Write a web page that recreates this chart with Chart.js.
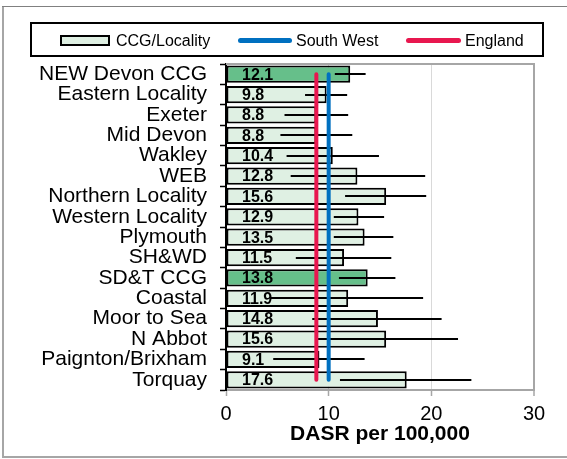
<!DOCTYPE html>
<html>
<head>
<meta charset="utf-8">
<script src="https://cdn.jsdelivr.net/npm/chart.js@4.4.0/dist/chart.umd.min.js"></script>
<style>
  html, body { margin:0; padding:0; background:#fff; }
  #wrap { position:relative; width:567px; height:459px; overflow:hidden; font-family:'Liberation Sans', Arial, sans-serif; }
  #c { position:absolute; left:0; top:0; }
  .abs { position:absolute; }
  .lg-text { position:absolute; font-size:16px; line-height:20px; color:#000; white-space:nowrap; }
</style>
</head>
<body>
<div id="wrap">
  <canvas id="c" width="567" height="459"></canvas>
  <!-- outer frame -->
  <div class="abs" style="left:2px;top:6px;width:2px;height:452px;background:#a6a6a6;"></div>
  <div class="abs" style="left:2px;top:6px;width:565px;height:1px;background:#808080;"></div>
  <div class="abs" style="left:2px;top:456px;width:565px;height:2px;background:#a6a6a6;"></div>
  <!-- legend -->
  <div class="abs" style="left:30px;top:22px;width:510px;height:31px;border:2px solid #000;"></div>
  <div class="abs" id="lgBar" style="left:60px;top:35px;width:46px;height:7px;border:2px solid #000;"></div>
  <div class="lg-text" id="lgT1" style="left:116px;top:31px;"></div>
  <div class="abs" id="lgSW" style="left:238px;top:38px;width:54px;height:5px;border-radius:2.5px;"></div>
  <div class="lg-text" id="lgT2" style="left:296px;top:31px;"></div>
  <div class="abs" id="lgEng" style="left:406px;top:38px;width:55px;height:5px;border-radius:2.5px;"></div>
  <div class="lg-text" id="lgT3" style="left:465px;top:31px;"></div>
</div>
<script>
// ---- data ----
const categories = ['NEW Devon CCG','Eastern Locality','Exeter','Mid Devon','Wakley','WEB','Northern Locality','Western Locality','Plymouth','SH&WD','SD&T CCG','Coastal','Moor to Sea','N Abbot','Paignton/Brixham','Torquay'];
const values = [12.1, 9.8, 8.8, 8.8, 10.4, 12.8, 15.6, 12.9, 13.5, 11.5, 13.8, 11.9, 14.8, 15.6, 9.1, 17.6];
const lowerCI = [10.6, 7.7, 5.7, 5.3, 5.9, 6.3, 11.6, 10.5, 10.5, 6.8, 11.0, 4.3, 8.4, 8.9, 4.6, 11.1];
const upperCI = [13.6, 11.8, 11.9, 12.3, 14.9, 19.4, 19.5, 15.4, 16.3, 16.1, 16.5, 19.2, 21.0, 22.6, 13.5, 23.9];
const highlighted = ['NEW Devon CCG', 'SD&T CCG'];
const southWestValue = 10.0;
const englandValue = 8.8;
const xTicks = [0, 10, 20, 30];
const seriesNames = ['CCG/Locality', 'South West', 'England'];
const axisTitle = 'DASR per 100,000';

// ---- styles ----
const FONT = "'Liberation Sans', Arial, sans-serif";
const LIGHT = '#dff0e3';
const DARK = '#66bf8a';
const BLUE = '#0070c0';
const RED = '#e8174f';

document.getElementById('lgBar').style.background = LIGHT;
document.getElementById('lgSW').style.background = BLUE;
document.getElementById('lgEng').style.background = RED;
document.getElementById('lgT1').textContent = seriesNames[0];
document.getElementById('lgT2').textContent = seriesNames[1];
document.getElementById('lgT3').textContent = seriesNames[2];

const overlay = {
  id: 'overlay',
  beforeDatasetsDraw(chart) {
    const {ctx, chartArea} = chart;
    ctx.save();
    ctx.strokeStyle = '#a6a6a6';
    ctx.lineWidth = 2;
    ctx.beginPath();
    ctx.moveTo(chartArea.left, chartArea.top);
    ctx.lineTo(chartArea.right + 1, chartArea.top);
    ctx.stroke();
    ctx.restore();
  },
  afterDatasetDraw(chart, args) {
    if (args.index !== 0) return;
    const {ctx} = chart;
    const xs = chart.scales.x, ys = chart.scales.y;
    ctx.save();
    ctx.font = 'bold 16px ' + FONT;
    ctx.fillStyle = '#000';
    ctx.textAlign = 'left';
    ctx.textBaseline = 'middle';
    values.forEach((v, i) => {
      ctx.fillText(v.toFixed(1), xs.getPixelForValue(0) + 16, ys.getPixelForValue(i) + 1);
    });
    ctx.strokeStyle = '#000';
    ctx.lineWidth = 2;
    categories.forEach((c, i) => {
      const y = Math.round(ys.getPixelForValue(i));
      ctx.beginPath();
      ctx.moveTo(xs.getPixelForValue(lowerCI[i]), y);
      ctx.lineTo(xs.getPixelForValue(upperCI[i]), y);
      ctx.stroke();
    });
    ctx.restore();
  }
};

new Chart(document.getElementById('c'), {
  type: 'bar',
  data: {
    labels: categories,
    datasets: [
      {
        type: 'bar',
        label: seriesNames[0],
        data: values,
        backgroundColor: categories.map(c => highlighted.includes(c) ? DARK : LIGHT),
        borderColor: '#000',
        borderWidth: 2,
        borderSkipped: false,
        barPercentage: 0.85,
        categoryPercentage: 1.0,
        order: 3
      },
      {
        type: 'line',
        label: seriesNames[1],
        data: [{x: southWestValue, y: categories[0]}, {x: southWestValue, y: categories[categories.length - 1]}],
        borderColor: BLUE,
        borderWidth: 4,
        borderCapStyle: 'round',
        pointRadius: 0,
        fill: false,
        order: 2
      },
      {
        type: 'line',
        label: seriesNames[2],
        data: [{x: englandValue, y: categories[0]}, {x: englandValue, y: categories[categories.length - 1]}],
        borderColor: RED,
        borderWidth: 4,
        borderCapStyle: 'round',
        pointRadius: 0,
        fill: false,
        order: 1
      }
    ]
  },
  options: {
    indexAxis: 'y',
    responsive: false,
    animation: false,
    devicePixelRatio: 1,
    layout: { padding: { left: 0, top: 64, right: 33, bottom: 9 } },
    plugins: { legend: { display: false }, tooltip: { enabled: false } },
    scales: {
      x: {
        type: 'linear',
        position: 'bottom',
        min: xTicks[0],
        max: xTicks[xTicks.length - 1],
        afterBuildTicks: s => { s.ticks = xTicks.map(v => ({value: v})); },
        ticks: { font: { family: FONT, size: 20 }, color: '#000', padding: 6 },
        grid: {
          color: c => (c.tick && c.tick.value === xTicks[xTicks.length - 1]) ? '#a6a6a6' : '#d9d9d9',
          lineWidth: c => (c.tick && c.tick.value === xTicks[xTicks.length - 1]) ? 2 : 1,
          tickColor: '#a6a6a6',
          tickWidth: 1.5,
          tickLength: 6
        },
        border: { color: '#a6a6a6', width: 2 },
        title: { display: true, text: axisTitle, color: '#000', font: { family: FONT, size: 21, weight: 'bold' }, padding: { top: 0, bottom: 3 } },
        afterFit: s => { s.height = 60; }
      },
      y: {
        type: 'category',
        ticks: { autoSkip: false, font: { family: FONT, size: 21 }, color: '#000', padding: 13 },
        grid: { drawOnChartArea: false, offset: true, tickLength: 6, tickColor: '#000', tickWidth: 1.5 },
        border: { color: '#000', width: 2 },
        afterFit: s => { s.width = 226; }
      }
    }
  },
  plugins: [overlay]
});
</script>
</body>
</html>
